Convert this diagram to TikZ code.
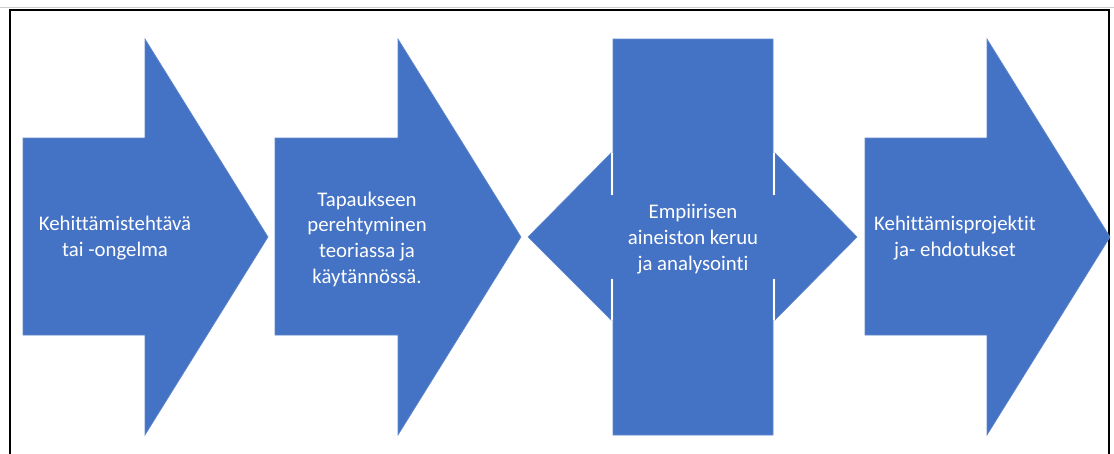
\documentclass[tikz,border=0pt]{standalone}
\usepackage{fontspec}
\setmainfont{Carlito}[Ligatures=NoCommon]
\begin{document}
\begin{tikzpicture}[x=1pt,y=-1pt,
  shape fill/.style={fill=blockblue,draw=blockblue!85!white,line width=0.6pt},
  label/.style={text=white,align=center,font=\fontsize{20.8}{25.7}\selectfont,inner sep=0pt}]
\definecolor{blockblue}{HTML}{4472C4}
\useasboundingbox (0,0) rectangle (1114,453);
% frame
\draw[gray!40,line width=0.8pt] (0,7) -- (1114,7);
\draw[black,line width=2pt] (9.5,455) -- (9.5,9.5) -- (1108.5,9.5) -- (1108.5,455);
% first arrow
\path[shape fill] (23,138) -- (145,138) -- (145,39) -- (268,237) -- (145,435) -- (145,335) -- (23,335) -- cycle;
% second arrow
\path[shape fill] (275,138) -- (398,138) -- (398,39) -- (521,237) -- (398,435) -- (398,335) -- (275,335) -- cycle;
% double-headed callout
\path[shape fill] (528,237) -- (611,153) -- (611,195) -- (613,195) -- (613,39) -- (773,39) -- (773,195)
  -- (775,195) -- (775,153) -- (857,237) -- (775,320) -- (775,279) -- (773,279) -- (773,435)
  -- (613,435) -- (613,279) -- (611,279) -- (611,320) -- cycle;
\draw[white,line width=1.2pt] (612,153) -- (612,195) (612,279) -- (612,320)
  (774,153) -- (774,195) (774,279) -- (774,320);
% last arrow
\path[shape fill] (865,138) -- (987,138) -- (987,39) -- (1110,237) -- (987,435) -- (987,335) -- (865,335) -- cycle;
% labels
\node[label] (t1) at (115,238) {Kehittämistehtävä\\tai -ongelma};
\node[label] (t2) at (367,239) {Tapaukseen\\perehtyminen\\teoriassa ja\\käytännössä.};
\node[label] (t3) at (693,239) {Empiirisen\\aineiston keruu\\ja analysointi};
\node[label] (t4) at (955,238) {Kehittämisprojektit\\ja- ehdotukset};
\end{tikzpicture}
\end{document}
